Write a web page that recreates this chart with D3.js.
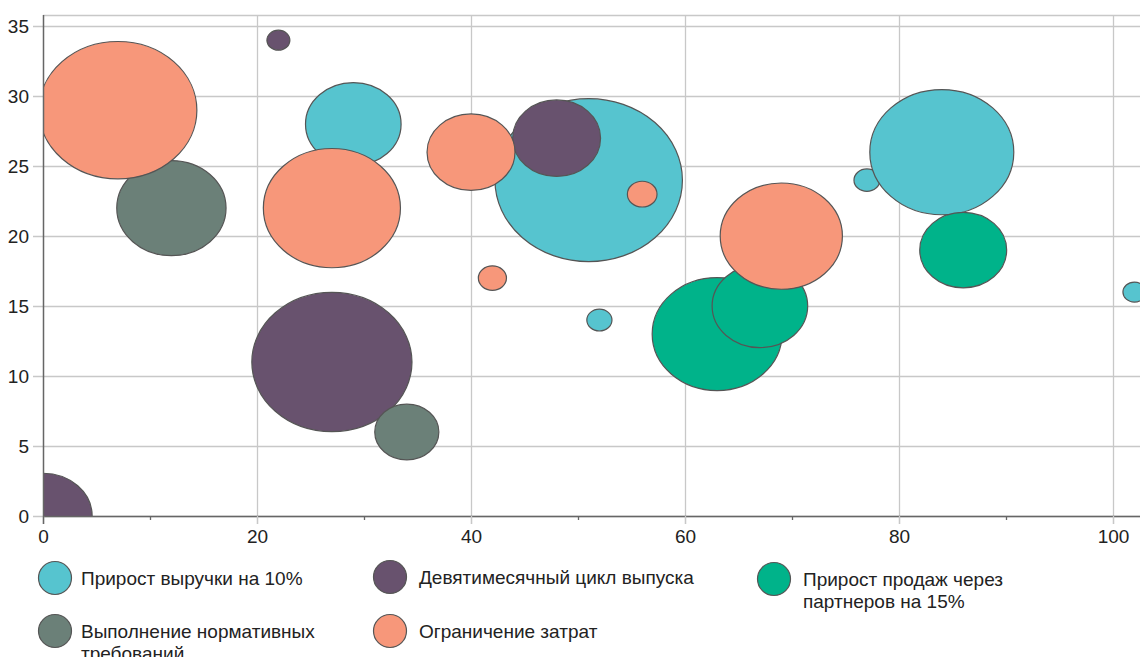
<!DOCTYPE html>
<html>
<head>
<meta charset="utf-8">
<script src="https://cdn.jsdelivr.net/npm/d3@7"></script>
<style>
  html, body { margin: 0; padding: 0; background: #fff; }
  svg { display: block; }
  text { font-family: "Liberation Sans", Arial, sans-serif; }
</style>
</head>
<body>
<svg id="chart" width="1140" height="657"></svg>
<script>
// ---- Data ----
const seriesNames = [
  "Прирост выручки на 10%",
  "Девятимесячный цикл выпуска",
  "Прирост продаж через партнеров на 15%",
  "Выполнение нормативных требований",
  "Ограничение затрат"
];
const seriesColors = ["#56C4CF", "#68526E", "#00B38A", "#6B8078", "#F7977A"];

// each series: [x, y, size]
const revenueGrowth = [[29, 28, 26], [51, 24, 100], [52, 14, 1.8], [77, 24, 1.9], [84, 26, 59], [102, 16, 1.5]];
const nineMonthCycle = [[22, 34, 1.5], [48, 27, 22], [27, 11, 73], [0, 0, 27.5]];
const partnerSales = [[63, 13, 48], [67, 15, 26], [86, 19, 21.5]];
const compliance = [[12, 22, 34], [34, 6, 11.7]];
const costLimit = [[7, 29, 71], [27, 22, 53.5], [40, 26, 22], [42, 17, 2.25], [56, 23, 2.5], [69, 20, 42.5]];
const seriesData = [revenueGrowth, nineMonthCycle, partnerSales, compliance, costLimit];

const xTicks = [0, 20, 40, 60, 80, 100];
const xMinorTicks = [10, 30, 50, 70, 90];
const yTicks = [0, 5, 10, 15, 20, 25, 30, 35];

// ---- Layout ----
const W = 1140, H = 657;
const mLeft = 43, mBottom = 516, mTop = 15, mRight = 1140;
const fontSize = 19;
const svg = d3.select("#chart");

const x = d3.scaleLinear().domain([0, 100]).range([mLeft, 1113]);
const y = d3.scaleLinear().domain([0, 35.8]).range([mBottom, mTop]);
const r = d3.scaleSqrt().domain([0, 100]).range([0, 81.5]);
const aspect = 1.15;

const gridColor = "#c8c8c8";
const axisColor = "#666";

// grid
const grid = svg.append("g");
grid.selectAll("line.h").data(yTicks).join("line")
  .attr("x1", mLeft - 10).attr("x2", mRight)
  .attr("y1", d => Math.round(y(d)) + 0.5).attr("y2", d => Math.round(y(d)) + 0.5)
  .attr("stroke", gridColor).attr("stroke-width", 1.3);
grid.selectAll("line.v").data(xTicks.slice(1)).join("line")
  .attr("x1", d => Math.round(x(d)) + 0.5).attr("x2", d => Math.round(x(d)) + 0.5)
  .attr("y1", mTop).attr("y2", mBottom + 8)
  .attr("stroke", gridColor).attr("stroke-width", 1.3);
// top frame
grid.append("line").attr("x1", mLeft).attr("x2", mRight)
  .attr("y1", mTop + 0.5).attr("y2", mTop + 0.5)
  .attr("stroke", gridColor).attr("stroke-width", 1.3);

// bubbles
svg.append("defs").append("clipPath").attr("id", "plotClip")
  .append("rect").attr("x", mLeft).attr("y", mTop).attr("width", mRight - mLeft).attr("height", mBottom - mTop);

const plot = svg.append("g").attr("clip-path", "url(#plotClip)");
seriesData.forEach((data, i) => {
  plot.append("g").selectAll("ellipse").data(data).join("ellipse")
    .attr("cx", d => x(d[0]))
    .attr("cy", d => y(d[1]))
    .attr("rx", d => r(d[2]) * aspect)
    .attr("ry", d => r(d[2]))
    .attr("fill", seriesColors[i])
    .attr("stroke", "#555")
    .attr("stroke-width", 1.2);
});

// axes
const xAxis = svg.append("g").attr("transform", `translate(0,${mBottom})`)
  .call(d3.axisBottom(x).tickValues(xTicks).tickSize(8).tickFormat(d3.format("d")));
xAxis.select(".domain").attr("d", `M${mLeft},0.5H${mRight}`).attr("stroke", axisColor).attr("stroke-width", 1.5);
xAxis.selectAll(".tick line").attr("stroke", gridColor).attr("stroke-width", 1.3);
xAxis.selectAll(".tick text").attr("font-size", fontSize).attr("fill", "#222").attr("dy", "0.85em")
  .attr("font-family", "Liberation Sans, Arial, sans-serif");

const xMinor = svg.append("g").attr("transform", `translate(0,${mBottom})`)
  .call(d3.axisBottom(x).tickValues(xMinorTicks).tickSize(4).tickFormat(""));
xMinor.select(".domain").remove();
xMinor.selectAll(".tick line").attr("stroke", axisColor).attr("stroke-width", 1.3);

const yAxis = svg.append("g").attr("transform", `translate(${mLeft},0)`)
  .call(d3.axisLeft(y).tickValues(yTicks).tickSize(0).tickPadding(14).tickFormat(d3.format("d")));
yAxis.select(".domain").attr("d", `M0.5,${mTop}V${mBottom + 8}`).attr("stroke", axisColor).attr("stroke-width", 1.5);
yAxis.selectAll(".tick text").attr("font-size", fontSize).attr("fill", "#222")
  .attr("font-family", "Liberation Sans, Arial, sans-serif");

// legend
const legendItems = [
  { i: 0, cx: 55, cy: 578, tx: 81, lines: ["Прирост выручки на 10%"] },
  { i: 1, cx: 390, cy: 577, tx: 419, lines: ["Девятимесячный цикл выпуска"] },
  { i: 2, cx: 774, cy: 579, tx: 803, lines: ["Прирост продаж через", "партнеров на 15%"] },
  { i: 3, cx: 55, cy: 631, tx: 81, lines: ["Выполнение нормативных", "требований"] },
  { i: 4, cx: 390, cy: 631, tx: 419, lines: ["Ограничение затрат"] }
];
const legend = svg.append("g");
legendItems.forEach(item => {
  legend.append("circle").attr("cx", item.cx).attr("cy", item.cy).attr("r", 16.5)
    .attr("fill", seriesColors[item.i]).attr("stroke", "#555").attr("stroke-width", 1.2);
  const t = legend.append("text").attr("x", item.tx).attr("y", item.cy)
    .attr("font-size", fontSize).attr("fill", "#222").attr("dominant-baseline", "central");
  item.lines.forEach((ln, k) => {
    t.append("tspan").attr("x", item.tx).attr("dy", k === 0 ? 0 : 22).text(ln);
  });
});
</script>
</body>
</html>
